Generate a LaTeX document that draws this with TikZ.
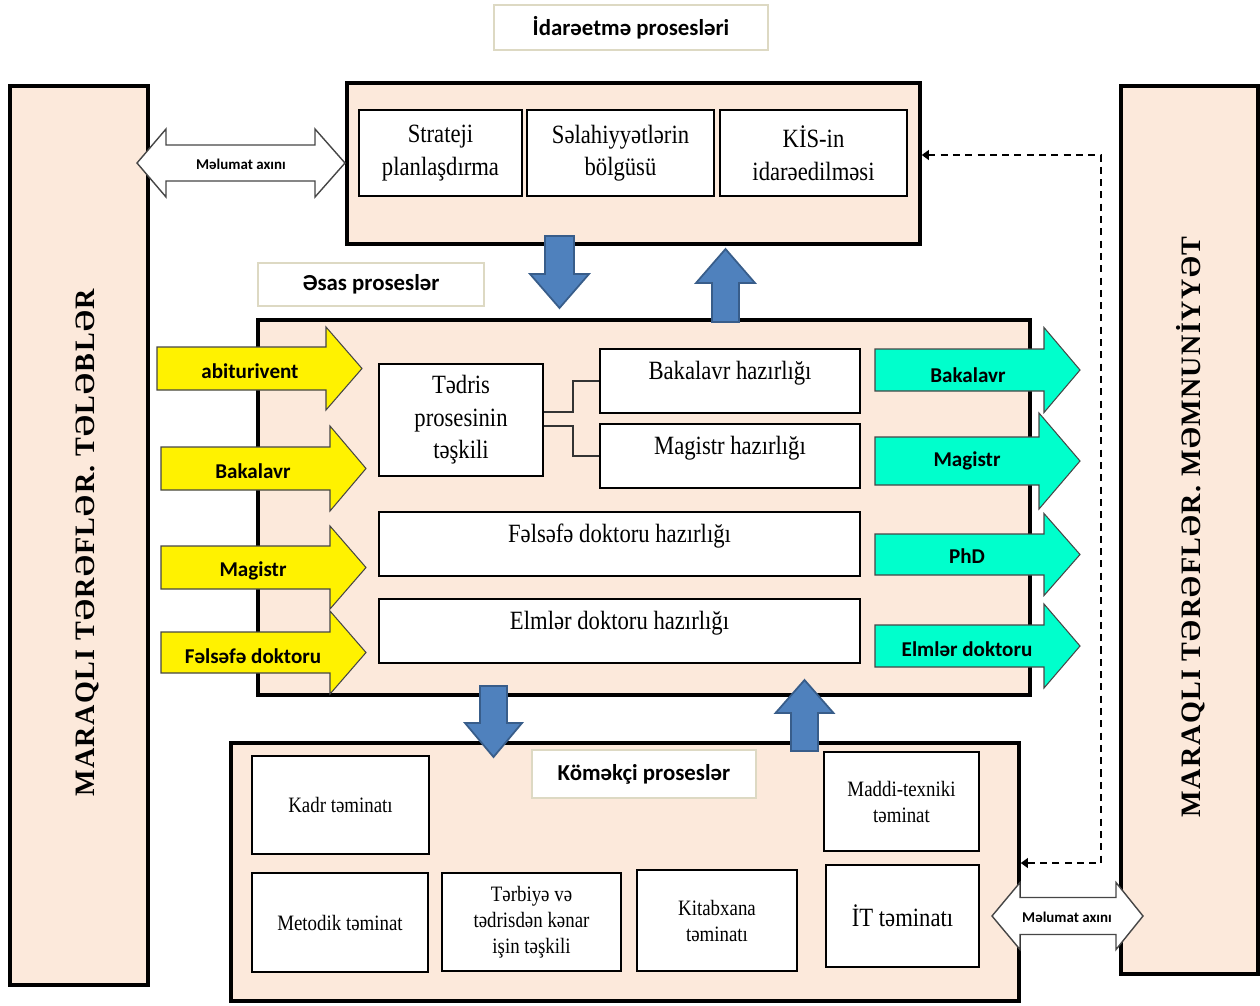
\documentclass[tikz,border=0pt]{standalone}
\usepackage{fontspec}
\setmainfont{Liberation Serif}[FakeStretch=0.86]
\newfontfamily\lblfont{Carlito}
\newfontfamily\vertfont{Liberation Serif}[LetterSpace=5]
\usepackage{tikz}
\usetikzlibrary{arrows.meta}
\definecolor{peach}{RGB}{252,233,219}
\definecolor{aqua}{RGB}{0,255,204}
\definecolor{blockblue}{RGB}{79,129,189}
\definecolor{blockline}{RGB}{56,93,138}
\definecolor{titleline}{RGB}{221,217,195}
\definecolor{arrline}{RGB}{70,70,70}
\def\bigtxt{\fontsize{15}{18.5}\selectfont}
\def\smtxt{\fontsize{12.5}{14.8}\selectfont}
% block arrows: right, vertical, double
\newcommand\rarrow[7]{\draw[#1] (#2,#5-#6) -- (#3,#5-#6) -- (#3,#5-#7) -- (#4,#5) -- (#3,#5+#7) -- (#3,#5+#6) -- (#2,#5+#6) -- cycle;}
\newcommand\varrow[7]{\draw[#1] (#2-#6,#3) -- (#2-#6,#4) -- (#2-#7,#4) -- (#2,#5) -- (#2+#7,#4) -- (#2+#6,#4) -- (#2+#6,#3) -- cycle;}
\newcommand\dblarrow[8]{\draw[#1] (#2,#6) -- (#3,#6-#8) -- (#3,#6-#7) -- (#4,#6-#7) -- (#4,#6-#8) -- (#5,#6) -- (#4,#6+#8) -- (#4,#6+#7) -- (#3,#6+#7) -- (#3,#6+#8) -- cycle;}

\begin{document}
\begin{tikzpicture}[x=0.02cm, y=-0.02cm,
  bigbox/.style={draw, line width=2pt, fill=peach},
  wbox/.style={draw, line width=1.3pt, fill=white, align=center, font=\bigtxt},
  sbox/.style={wbox, font=\smtxt},
  tbox/.style={draw=titleline, line width=0.8pt, fill=white, font=\lblfont\bfseries\fontsize{13}{15}\selectfont},
  boxsize/.style 2 args={minimum width=#1*0.02cm, minimum height=#2*0.02cm, inner sep=0pt},
  raised/.style={text height=10pt, text depth=12pt},
  vtxt/.style={rotate=90, font=\vertfont\bfseries\fontsize{16}{18}\selectfont},
  lbl/.style={font=\lblfont\bfseries\fontsize{12}{14}\selectfont},
  flow/.style={font=\lblfont\bfseries\fontsize{8.5}{10}\selectfont},
  yarr/.style={fill=yellow, draw=arrline, line width=0.6pt},
  carr/.style={fill=aqua, draw=arrline, line width=0.6pt},
  barr/.style={fill=blockblue, draw=blockline, line width=1pt},
  warr/.style={fill=white, draw=arrline, line width=0.8pt},
  link/.style={draw=black!80, line width=0.8pt},
  dline/.style={dash pattern=on 4pt off 3pt, line width=1.5pt,
    {Triangle[length=4pt,width=5.5pt]}-{Triangle[length=4pt,width=5.5pt]}}
  ]
  \useasboundingbox (0,0) rectangle (1260,1005);

  % side boxes
  \node[bigbox, boxsize={138}{899}] (leftbox) at (79,535.5) {};
  \node[vtxt] (lefttxt) at (87,543) {MARAQLI TƏRƏFLƏR. TƏLƏBLƏR};
  \node[bigbox, boxsize={137}{888}] (rightbox) at (1189.5,530) {};
  \node[vtxt] (righttxt) at (1191,527) {MARAQLI TƏRƏFLƏR. MƏMNUNİYYƏT};

  % management processes
  \node[tbox, boxsize={274}{45}] (idaretitle) at (631,27.5) {İdarəetmə prosesləri};
  \node[bigbox, boxsize={573}{161}] (idare) at (633.5,163.5) {};
  \node[wbox, boxsize={163}{86}] (strat) at (440.5,153) {Strateji\\planlaşdırma};
  \node[wbox, boxsize={187}{86}] (selah) at (620.5,153) {Səlahiyyətlərin\\bölgüsü};
  \node[wbox, boxsize={187}{86}] (kis) at (813.5,153) {KİS-in\\idarəedilməsi};

  % main processes
  \node[tbox, boxsize={226}{43}] (esastitle) at (371,284.5) {Əsas proseslər};
  \node[bigbox, boxsize={772}{375}] (esas) at (644,507.5) {};
  \node[wbox, boxsize={164}{112}] (tedris) at (461,420) {Tədris\\prosesinin\\təşkili};
  \node[wbox, raised, boxsize={260}{64}] (bak) at (730,381) {Bakalavr hazırlığı};
  \node[wbox, raised, boxsize={260}{64}] (mag) at (730,456) {Magistr hazırlığı};
  \node[wbox, raised, boxsize={481}{64}] (fd) at (619.5,544) {Fəlsəfə doktoru hazırlığı};
  \node[wbox, raised, boxsize={481}{64}] (ed) at (619.5,631) {Elmlər doktoru hazırlığı};
  \draw[link] ([yshift=4.5pt]tedris.east) -- ++(29,0) |- (bak.west);
  \draw[link] ([yshift=-3.4pt]tedris.east) -- ++(29,0) |- (mag.west);

  % supporting processes
  \node[bigbox, boxsize={788}{258}] (komek) at (625,872) {};
  \node[tbox, boxsize={224}{48}] (komektitle) at (644,774) {Köməkçi proseslər};
  \node[sbox, boxsize={177}{98}] (kadr) at (340.5,805) {Kadr təminatı};
  \node[sbox, boxsize={176}{99}] (metod) at (340,922.5) {Metodik təminat};
  \node[sbox, boxsize={179}{98}] (terb) at (531.5,922) {Tərbiyə və\\tədrisdən kənar\\işin təşkili};
  \node[sbox, boxsize={160}{101}] (kitab) at (717,920.5) {Kitabxana\\təminatı};
  \node[sbox, boxsize={155}{99}] (maddi) at (901.5,801.5) {Maddi-texniki\\təminat};
  \node[wbox, boxsize={153}{102}] (it) at (902.5,916) {İT təminatı};

  % feedback line
  \coordinate (dtop) at (1101,155);
  \coordinate (dbot) at (1101,863);
  \draw[dline] (idare.east |- dtop) -- (dtop) -- (dbot) -- (komek.east |- dbot);

  % information flow
  \dblarrow{warr}{137}{166}{315}{345}{163}{18}{34}
  \node[flow] (flowtop) at (241,164) {Məlumat axını};
  \dblarrow{warr}{992}{1020}{1116}{1143}{916}{18.5}{33.5}
  \node[flow] (flowbot) at (1067,917) {Məlumat axını};

  % blue block arrows
  \varrow{barr}{559.5}{236}{274}{308}{14.5}{29.5}
  \varrow{barr}{725.5}{322}{283}{249}{13.5}{29.5}
  \varrow{barr}{493.5}{686}{723}{757}{13.5}{28.5}
  \varrow{barr}{804.5}{751}{713}{680}{13.5}{29}

  % inputs
  \rarrow{yarr}{157}{326}{362}{368.5}{21.5}{41.5}
  \rarrow{yarr}{161}{330}{366}{468.5}{21.5}{42.5}
  \rarrow{yarr}{161}{330}{366}{567.5}{21.5}{41.5}
  \rarrow{yarr}{161}{330}{366}{652.5}{20.5}{41.5}
  \node[lbl] (inabit) at (250,371) {abiturivent};
  \node[lbl] (inbak) at (253,471) {Bakalavr};
  \node[lbl] (inmag) at (253,571) {Magistr};
  \node[lbl] (infd) at (253,656) {Fəlsəfə doktoru};

  % outputs
  \rarrow{carr}{875}{1044}{1080}{370}{21}{42.5}
  \rarrow{carr}{875}{1039}{1080}{461}{24}{48}
  \rarrow{carr}{875}{1044}{1080}{554.5}{20.5}{41}
  \rarrow{carr}{875}{1044}{1080}{646}{21}{42}
  \node[lbl] (outbak) at (968,375) {Bakalavr};
  \node[lbl] (outmag) at (967,461) {Magistr};
  \node[lbl] (outphd) at (967,556) {PhD};
  \node[lbl] (outed) at (967,649) {Elmlər doktoru};
\end{tikzpicture}
\end{document}
